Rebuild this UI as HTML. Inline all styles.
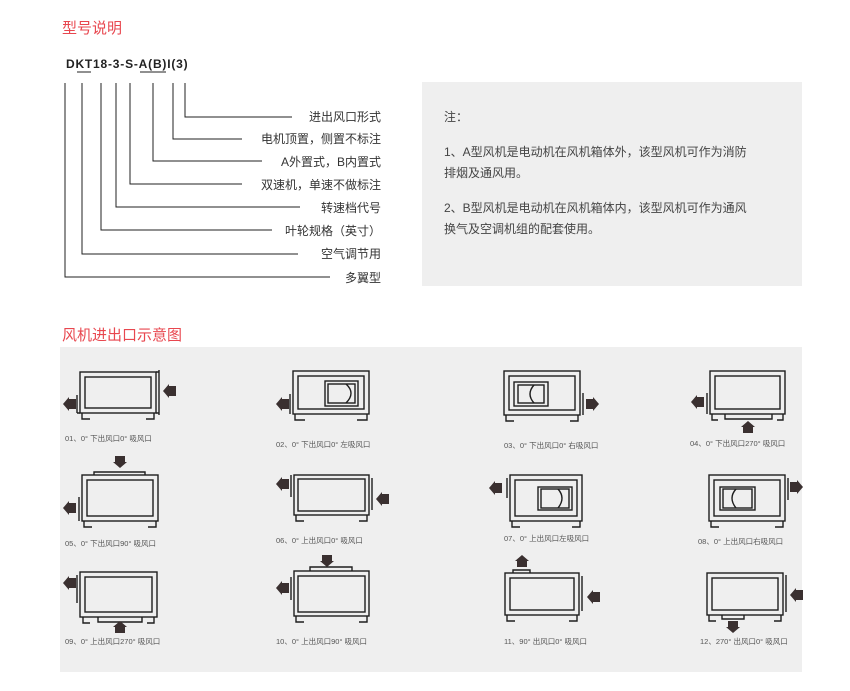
<!DOCTYPE html>
<html><head><meta charset="utf-8"><style>
html,body{margin:0;padding:0;background:#fff;}
body{width:850px;height:691px;position:relative;overflow:hidden;font-family:"Liberation Sans","Noto Sans CJK SC",sans-serif;}
svg{position:absolute;left:0;top:0;}
</style></head><body>
<svg width="850" height="691" viewBox="0 0 850 691" xmlns="http://www.w3.org/2000/svg" font-family="Liberation Sans, Noto Sans CJK SC, sans-serif">
<defs>
<path id="aL" d="M0,7 L6,0 L6,2 L13,2 L13,12 L6,12 L6,14 Z" fill="#3a3030"/>
<path id="aR" d="M13,7 L7,0 L7,2 L0,2 L0,12 L7,12 L7,14 Z" fill="#3a3030"/>
<path id="aU" d="M7,0 L14,6 L12,6 L12,12 L2,12 L2,6 L0,6 Z" fill="#3a3030"/>
<path id="aD" d="M7,12 L14,6 L12,6 L12,0 L2,0 L2,6 L0,6 Z" fill="#3a3030"/>
</defs>
<text x="62" y="33" font-size="15" fill="#e8474f">型号说明</text>
<text x="62" y="340" font-size="15" fill="#e8474f">风机进出口示意图</text>
<text x="66" y="68" font-size="12" font-weight="bold" fill="#222" letter-spacing="0.8">DKT18-3-S-A(B)I(3)</text>
<g stroke="#222" stroke-width="1" fill="none">
<path d="M77,72 H91 M140,72 H166"/>
<path d="M185,83 V117 H292"/>
<path d="M173,83 V139 H242"/>
<path d="M153,83 V161 H262"/>
<path d="M130,83 V184 H242"/>
<path d="M116,83 V207 H300"/>
<path d="M101,83 V230 H272"/>
<path d="M82,83 V254 H298"/>
<path d="M65,83 V277 H330"/>
</g>
<g font-size="12" fill="#333" text-anchor="end">
<text x="381" y="121">进出风口形式</text>
<text x="381" y="143">电机顶置，侧置不标注</text>
<text x="381" y="166">A外置式，B内置式</text>
<text x="381" y="189">双速机，单速不做标注</text>
<text x="381" y="212">转速档代号</text>
<text x="381" y="235">叶轮规格（英寸）</text>
<text x="381" y="258">空气调节用</text>
<text x="381" y="282">多翼型</text>
</g>
<rect x="422" y="82" width="380" height="204" fill="#efefef"/>
<g font-size="12" fill="#444">
<text x="444" y="121">注：</text>
<text x="444" y="156">1、A型风机是电动机在风机箱体外，该型风机可作为消防</text>
<text x="444" y="177">排烟及通风用。</text>
<text x="444" y="212">2、B型风机是电动机在风机箱体内，该型风机可作为通风</text>
<text x="444" y="233">换气及空调机组的配套使用。</text>
</g>
<rect x="60" y="347" width="742" height="325" fill="#efefef"/>
<g stroke="#1e1e1e" stroke-width="1.4" fill="none">
<rect x="80" y="372" width="76" height="41"/><rect x="85" y="377" width="66" height="31"/>
<path d="M159,370 V415 M156,372 H159 M156,413 H159 M77,395 V413 M80,413 H77"/>
<path d="M82,413 V419 H90 M154,413 V419 H146"/>
<rect x="293" y="371" width="76" height="43"/><rect x="298" y="376" width="66" height="33"/>
<rect x="325" y="381" width="33" height="25"/><rect x="328" y="384" width="27" height="19"/>
<path d="M346,384 Q356,393 346,403"/>
<path d="M290,394 V414 M295,414 V420 H305 M367,414 V420 H357"/>
<rect x="504" y="371" width="76" height="44"/><rect x="509" y="376" width="66" height="34"/>
<rect x="514" y="382" width="34" height="24"/><rect x="518" y="385" width="26" height="18"/>
<path d="M534,385 Q526,394 534,403"/>
<path d="M583,393 V415 M506,415 V421 H514 M578,415 V421 H570"/>
<rect x="710" y="371" width="75" height="43"/><rect x="715" y="376" width="65" height="33"/>
<path d="M707,393 V414 M725,414 V419 H772 V414 M712,414 V420 H718 M783,414 V420 H777"/>
<rect x="82" y="475" width="76" height="46"/><rect x="87" y="480" width="66" height="36"/>
<path d="M94,475 V472 H145 V475 M79,497 V521 M84,521 V527 H92 M156,521 V527 H148"/>
<rect x="294" y="475" width="75" height="40"/><rect x="298" y="479" width="67" height="32"/>
<path d="M291,475 V497 M372,478 V510 M296,515 V521 H304 M367,515 V521 H359"/>
<rect x="510" y="475" width="72" height="46"/><rect x="515" y="480" width="62" height="36"/>
<rect x="538" y="487" width="34" height="23"/><rect x="541" y="489" width="28" height="19"/>
<path d="M558,489 Q566,498 558,508"/>
<path d="M507,478 V498 M512,521 V527 H520 M580,521 V527 H572"/>
<rect x="709" y="475" width="76" height="46"/><rect x="714" y="480" width="66" height="36"/>
<rect x="720" y="487" width="35" height="23"/><rect x="723" y="489" width="29" height="19"/>
<path d="M736,489 Q728,498 736,508"/>
<path d="M788,478 V500 M711,521 V527 H719 M783,521 V527 H775"/>
<rect x="80" y="572" width="77" height="45"/><rect x="85" y="577" width="67" height="35"/>
<path d="M77,575 V603 M98,617 V622 H142 V617 M83,617 V623 H90 M154,617 V623 H147"/>
<rect x="294" y="571" width="75" height="45"/><rect x="298" y="576" width="67" height="36"/>
<path d="M310,571 V567 H352 V571 M291,577 V600 M296,616 V622 H304 M367,616 V622 H359"/>
<rect x="505" y="573" width="74" height="42"/><rect x="510" y="578" width="64" height="32"/>
<path d="M513,573 V570 H530 V573 M582,576 V611 M507,615 V621 H515 M577,615 V621 H569"/>
<rect x="707" y="573" width="76" height="42"/><rect x="712" y="578" width="66" height="32"/>
<path d="M786,575 V612 M722,615 V619 H744 V615 M709,615 V621 H716 M781,615 V621 H774"/>
</g>
<use href="#aL" x="63" y="397"/><use href="#aL" x="163" y="384"/>
<use href="#aL" x="276" y="397"/>
<use href="#aR" x="586" y="397"/>
<use href="#aL" x="691" y="395"/><use href="#aU" x="741" y="421"/>
<use href="#aD" x="113" y="456"/><use href="#aL" x="63" y="501"/>
<use href="#aL" x="276" y="477"/><use href="#aL" x="376" y="492"/>
<use href="#aL" x="489" y="481"/>
<use href="#aR" x="790" y="480"/>
<use href="#aL" x="63" y="576"/><use href="#aU" x="113" y="621"/>
<use href="#aD" x="320" y="555"/><use href="#aL" x="276" y="581"/>
<use href="#aU" x="515" y="555"/><use href="#aL" x="587" y="590"/>
<use href="#aD" x="726" y="621"/><use href="#aL" x="790" y="588"/>
<g font-size="7.5" fill="#555">
<text x="65" y="441">01、0°  下出风口0°  吸风口</text>
<text x="276" y="447">02、0°  下出风口0°  左吸风口</text>
<text x="504" y="448">03、0°  下出风口0°  右吸风口</text>
<text x="690" y="446">04、0°  下出风口270°  吸风口</text>
<text x="65" y="546">05、0°  下出风口90°  吸风口</text>
<text x="276" y="543">06、0°  上出风口0°  吸风口</text>
<text x="504" y="541">07、0°  上出风口左吸风口</text>
<text x="698" y="544">08、0°  上出风口右吸风口</text>
<text x="65" y="644">09、0°  上出风口270°  吸风口</text>
<text x="276" y="644">10、0°  上出风口90°  吸风口</text>
<text x="504" y="644">11、90°  出风口0°  吸风口</text>
<text x="700" y="644">12、270°  出风口0°  吸风口</text>
</g>
</svg>
</body></html>
